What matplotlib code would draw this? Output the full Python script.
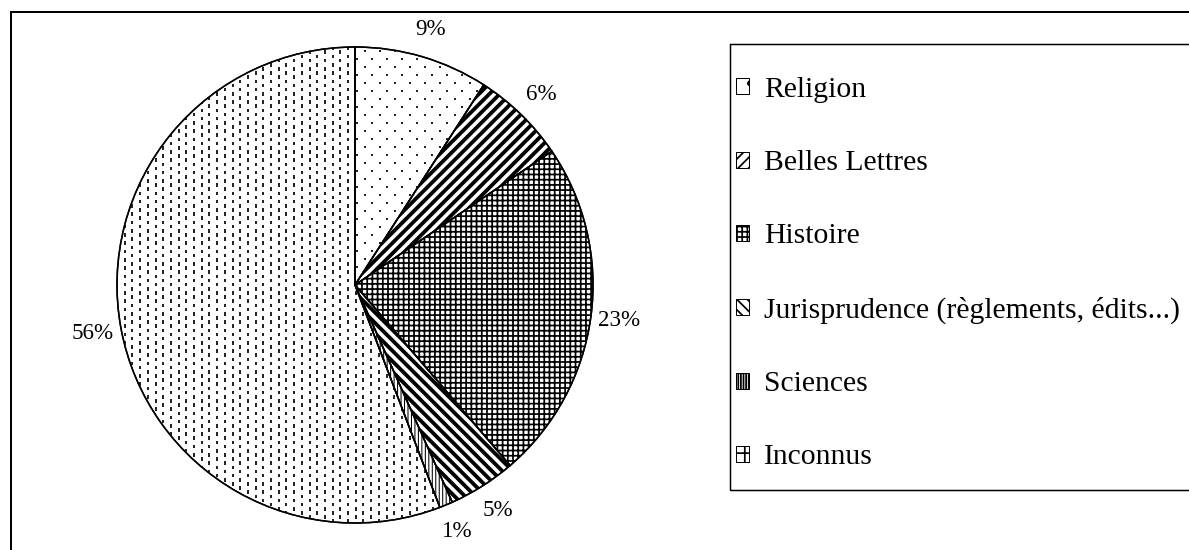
import numpy as np
import matplotlib
matplotlib.use('Agg')
from matplotlib import pyplot as plt
from matplotlib.patches import Patch, Rectangle
from matplotlib.collections import LineCollection

# données (parts en %)
categories = ['Religion', 'Belles Lettres', 'Histoire',
              'Jurisprudence (règlements, édits...)', 'Sciences', 'Inconnus']
shares = [9.1, 6.4, 23.2, 4.6, 0.9, 55.8]
pct_labels = ['9%', '6%', '23%', '5%', '1%', '56%']
hatches = ['', '////', '++++', '\\\\\\\\', '||||||', '']
hatch_lw = [0.8, 2.2, 1.0, 2.2, 0.6, 0.8]
legend_hatches = ['.', '////', '++++', '\\\\\\\\', '||||||||', '++']

DPI = 125
W, H = 1189, 550
px = 72.0 / DPI  # 1 pixel en points
plt.rcParams['font.family'] = ['Liberation Serif', 'DejaVu Serif']

fig = plt.figure(figsize=(W / DPI, H / DPI), dpi=DPI)
ax = fig.add_axes([0, 0, 1, 1])

cx, cy, r = 355, H - 285, 238
wedges, texts = ax.pie(shares, labels=pct_labels, center=(cx, cy), radius=r,
                       startangle=90, counterclock=False, labeldistance=1.12,
                       colors=['white'] * len(shares),
                       wedgeprops=dict(edgecolor='black', linewidth=1.5 * px),
                       textprops=dict(fontsize=23 * px), frame=True)
for t in texts:
    t.set_ha('center')
    t.set_va('center')

for w, h, lw in zip(wedges, hatches, hatch_lw):
    w.set_hatch(h)
    if hasattr(w, 'set_hatch_linewidth'):
        w.set_hatch_linewidth(lw)

# texture pointillée (Religion)
gx, gy = [], []
for i, y in enumerate(np.arange(cy - r, cy + r, 8.0)):
    off = 0 if i % 2 == 0 else 7.5
    for x in np.arange(cx - r + off, cx + r, 15.0):
        gx.append(x)
        gy.append(y)
dots = ax.scatter(gx, gy, s=(1.7 * px) ** 2, marker='s', color='#222222', linewidths=0, zorder=2)
dots.set_clip_path(wedges[0])

# texture en tirets verticaux (Inconnus)
segs = []
for j, x in enumerate(np.arange(cx - r, cx + r, 7.7)):
    off = 0 if j % 2 == 0 else 4.1
    for y in np.arange(cy - r + off, cy + r, 8.3):
        segs.append([(x, y), (x, y + 3.6)])
dashes = LineCollection(segs, colors='#1a1a1a', linewidths=1.9 * px, zorder=2)
ax.add_collection(dashes)
dashes.set_clip_path(wedges[5])

# contours des secteurs par-dessus les textures
ax.pie(shares, center=(cx, cy), radius=r, startangle=90, counterclock=False,
       wedgeprops=dict(fill=False, edgecolor='black', linewidth=1.5 * px, zorder=3),
       frame=True)

ax.set_xlim(0, W)
ax.set_ylim(0, H)
ax.axis('off')

# cadre extérieur
ax.add_patch(Rectangle((11, -10), W, H - 12 + 10, fill=False, edgecolor='black',
                       linewidth=2 * px, zorder=5))

# légende
handles = []
for lab, h, lw in zip(categories, legend_hatches, hatch_lw):
    p = Patch(facecolor='white', edgecolor='black', hatch=h, linewidth=1 * px, label=lab)
    if hasattr(p, 'set_hatch_linewidth'):
        p.set_hatch_linewidth(min(lw, 1.6))
    handles.append(p)

ax.add_patch(Rectangle((730, H - 490), 600, 446, fill=False, edgecolor='black',
                       linewidth=1.5 * px, zorder=5))
fs = 29.7 * px
ax.legend(handles=handles, loc='upper left', bbox_to_anchor=(736, H - 77),
          bbox_transform=ax.transData, frameon=False, fontsize=fs,
          borderpad=0, borderaxespad=0, handlelength=0.45, handleheight=0.45,
          handletextpad=0.5, labelspacing=1.59)

plt.savefig('out.png', dpi=DPI)
